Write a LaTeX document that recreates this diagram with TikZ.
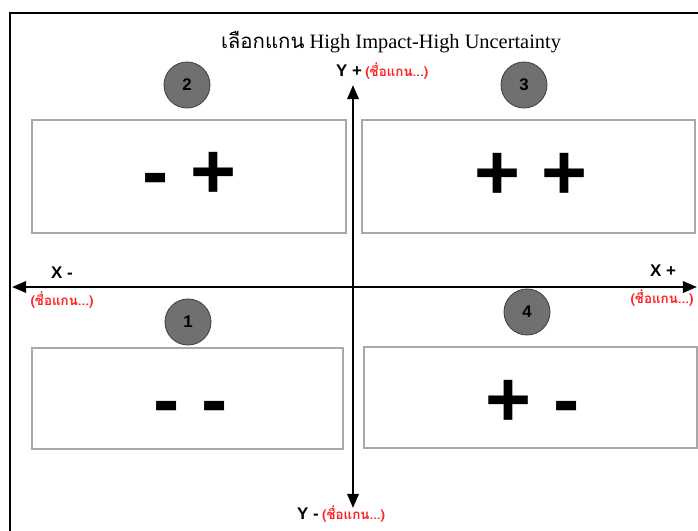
\documentclass[tikz,border=0pt]{standalone}
\usepackage{fontspec}
\setmainfont{Liberation Serif}
\newfontfamily\thaifont[Script=Thai]{Loma}
\newfontfamily\signfont{Liberation Sans}
\usetikzlibrary{positioning,arrows.meta}
\definecolor{qdgray}{HTML}{A8A8A8}
\definecolor{qdcircle}{HTML}{707070}
\definecolor{qdred}{HTML}{FF2020}

\begin{document}
\begin{tikzpicture}[x=0.025cm, y=-0.025cm,
    quadbox/.style={rectangle, draw=qdgray, line width=1.1pt, inner sep=0pt},
    numcirc/.style={circle, draw=black!75, fill=qdcircle, line width=0.6pt, minimum size=1.15cm, inner sep=0pt, font=\signfont\bfseries\fontsize{12}{14}\selectfont},
    signtext/.style={anchor=base, inner sep=0pt, font=\signfont\bfseries\fontsize{56}{60}\selectfont},
    axislabel/.style={inner sep=0pt, font=\signfont\bfseries\fontsize{12}{14}\selectfont},
    axisname/.style={inner sep=0pt, text=qdred, font=\thaifont\bfseries\fontsize{9.5}{11}\selectfont},
    axisline/.style={line width=1.8pt, {Triangle[length=10pt,width=8pt]}-{Triangle[length=10pt,width=8pt]}}]
  \useasboundingbox (0,0) rectangle (698,531);

  % Frame
  \draw[line width=1.4pt] (10,531) -- (10,13) -- (698,13);

  % Title
  \node (title) at (391,42) {\fontsize{14.5}{16}\selectfont{\thaifont เลือกแกน} High Impact-High Uncertainty};

  % Quadrant boxes
  \node[quadbox, minimum width=7.85cm, minimum height=2.825cm] (q2) at (189,176.5) {};
  \node[quadbox, minimum width=8.325cm, minimum height=2.825cm] (q3) at (528.5,176.5) {};
  \node[quadbox, minimum width=7.775cm, minimum height=2.525cm] (q1) at (187.5,398.5) {};
  \node[quadbox, minimum width=8.325cm, minimum height=2.525cm] (q4) at (530.5,397.5) {};

  % Signs
  \node[signtext] (s2) at (190,199) {- +};
  \node[signtext] (s3) at (531,200) {+ +};
  \node[signtext] (s1) at (191,426) {- -};
  \node[signtext] (s4) at (533,426) {+ -};

  % Numbers
  \node[numcirc] (n2) at (187,85) {2};
  \node[numcirc] (n3) at (524,85) {3};
  \node[numcirc] (n1) at (188,322) {1};
  \node[numcirc] (n4) at (527,312) {4};

  % Axes
  \coordinate (xl) at (12,287);
  \coordinate (xr) at (697,287);
  \coordinate (yt) at (353,85);
  \coordinate (yb) at (353,508);
  \draw[axisline] (xl) -- (xr);
  \draw[axisline] (yb) -- (yt);

  % Axis labels
  \node[axislabel] (yp) at (349,71) {Y +};
  \node[axisname, right=2pt of yp] (ypn) {(ชื่อแกน...)};
  \node[axislabel] (ym) at (308,514) {Y -};
  \node[axisname, right=2pt of ym] (ymn) {(ชื่อแกน...)};
  \node[axislabel] (xm) at (62,273) {X -};
  \node[axisname] (xmn) at (62,300) {(ชื่อแกน...)};
  \node[axislabel] (xp) at (663,271) {X +};
  \node[axisname] (xpn) at (662,298) {(ชื่อแกน...)};
\end{tikzpicture}
\end{document}
